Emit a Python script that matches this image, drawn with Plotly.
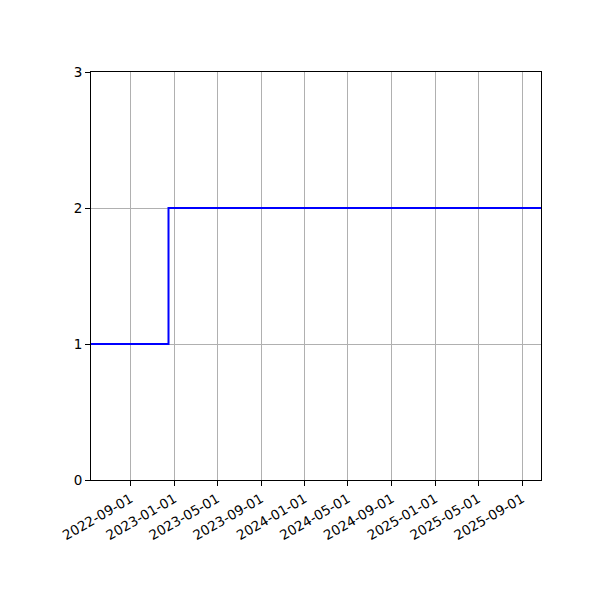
import plotly.graph_objects as go

# step series
dates = ["2022-05-13", "2022-12-16", "2025-10-24"]
values = [1, 2, 2]

tick_dates = [
    "2022-09-01", "2023-01-01", "2023-05-01", "2023-09-01", "2024-01-01",
    "2024-05-01", "2024-09-01", "2025-01-01", "2025-05-01", "2025-09-01",
]
y_ticks = [0, 1, 2, 3]

fig = go.Figure(
    go.Scatter(x=dates, y=values, mode="lines", line_shape="hv",
               line=dict(color="blue", width=2), showlegend=False)
)

axis_style = dict(
    showline=True, linecolor="black", linewidth=1, mirror=True,
    ticks="outside", ticklen=5, tickcolor="black",
    showgrid=True, gridcolor="#b0b0b0", gridwidth=1,
    zeroline=False, tickfont=dict(family="DejaVu Sans", size=13.5, color="black"),
)

fig.update_xaxes(
    range=[dates[0], dates[-1]], tickvals=tick_dates, tickformat="%Y-%m-%d",
    tickangle=-30, **axis_style
)
fig.update_yaxes(range=[0, 3], tickvals=y_ticks, **axis_style)

fig.update_layout(
    width=600, height=600,
    margin=dict(l=83, r=67, t=64, b=128),
    paper_bgcolor="white", plot_bgcolor="white",
    font=dict(family="DejaVu Sans"),
)

fig.write_html("out.html")
